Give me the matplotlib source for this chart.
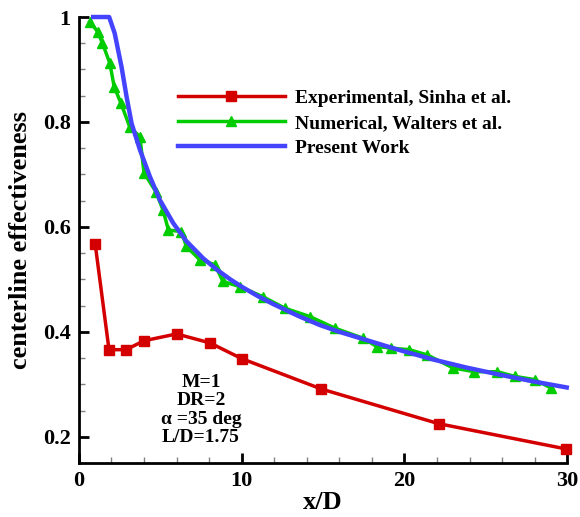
import matplotlib.pyplot as plt
from matplotlib.ticker import MultipleLocator

# Experimental, Sinha et al.
x_exp = [1.0, 1.85, 2.9, 4.0, 6.0, 8.05, 10.0, 14.9, 22.1, 29.9]
y_exp = [0.568, 0.366, 0.366, 0.383, 0.396, 0.379, 0.349, 0.291, 0.225, 0.177]

# Numerical, Walters et al.
x_num = [0.68, 1.15, 1.45, 1.9, 2.17, 2.58, 3.13, 3.75, 4.0, 4.73, 5.17, 5.5, 6.3,
         6.6, 7.44, 8.36, 8.85, 9.9, 11.3, 12.66, 14.2, 15.73, 17.45, 18.3, 19.2,
         20.3, 21.4, 23.0, 24.3, 25.7, 26.8, 28.0, 29.0]
y_num = [0.991, 0.972, 0.95, 0.912, 0.867, 0.836, 0.79, 0.772, 0.703, 0.667, 0.632,
         0.594, 0.591, 0.563, 0.537, 0.528, 0.496, 0.486, 0.467, 0.445, 0.429, 0.407,
         0.388, 0.372, 0.369, 0.366, 0.356, 0.331, 0.324, 0.324, 0.315, 0.309, 0.293]

# Present Work
x_pw = [0.88, 1.86, 2.2, 2.62, 2.93, 3.24, 3.75, 4.36, 4.98, 5.8, 6.6, 7.64, 8.5,
        9.3, 10.0, 11.0, 12.0, 13.5, 14.8, 16.0, 17.7, 19.5, 21.8, 23.8, 25.9, 28.0, 29.97]
y_pw = [1.0, 1.0, 0.969, 0.905, 0.848, 0.797, 0.747, 0.696, 0.651, 0.607, 0.573,
        0.54, 0.518, 0.5, 0.486, 0.468, 0.452, 0.43, 0.413, 0.4, 0.384, 0.367,
        0.347, 0.332, 0.318, 0.305, 0.294]

plt.rcParams['font.family'] = ['Liberation Serif', 'DejaVu Serif']
plt.rcParams['font.weight'] = 'bold'

fig = plt.figure(figsize=(5.8, 5.17), dpi=100)
ax = fig.add_axes([0.136, 0.1044, 0.842, 0.8627])

ax.plot(x_exp, y_exp, color='#d40000', lw=2.5, marker='s', ms=7,
        label='Experimental, Sinha et al.', clip_on=False, zorder=3)
ax.plot(x_num, y_num, color='#00cc00', lw=2.5, marker='^', ms=7,
        label='Numerical, Walters et al.', clip_on=False, zorder=4)
ax.plot(x_pw, y_pw, color='#4444ff', lw=3.2,
        label='Present Work', clip_on=False, zorder=5)

ax.set_xlim(0, 30)
ax.set_ylim(0.150, 1.0)
ax.xaxis.set_major_locator(MultipleLocator(10))
ax.xaxis.set_minor_locator(MultipleLocator(2))
ax.yaxis.set_minor_locator(MultipleLocator(0.05))
ax.set_yticks([0.2, 0.4, 0.6, 0.8, 1.0])
ax.set_yticklabels(['0.2', '0.4', '0.6', '0.8', '1'])

for s in ['top', 'right']:
    ax.spines[s].set_visible(False)
for s in ['left', 'bottom']:
    ax.spines[s].set_linewidth(2)

ax.tick_params(which='major', direction='in', length=7, width=2, labelsize=16, pad=6)
ax.tick_params(which='minor', direction='in', length=4, width=1, color='gray')

ax.set_xlabel('x/D', fontsize=19, fontweight='bold', labelpad=0)
ax.set_ylabel('centerline effectiveness', fontsize=19, fontweight='bold')
ax.yaxis.set_label_coords(-0.097, 0.5)

ax.legend(loc='upper left', bbox_to_anchor=(0.203, 0.8386), frameon=False,
          handlelength=5.5, handletextpad=0.5, labelspacing=0.39, borderpad=0,
          borderaxespad=0, prop={'weight': 'bold', 'size': 14})

ax.text(7.5, 0.251, 'M=1\nDR=2\n\u03b1 =35 deg\nL/D=1.75', ha='center', va='center',
        fontsize=14, fontweight='bold', linespacing=1.1)

fig.savefig('out.png', dpi=100)
